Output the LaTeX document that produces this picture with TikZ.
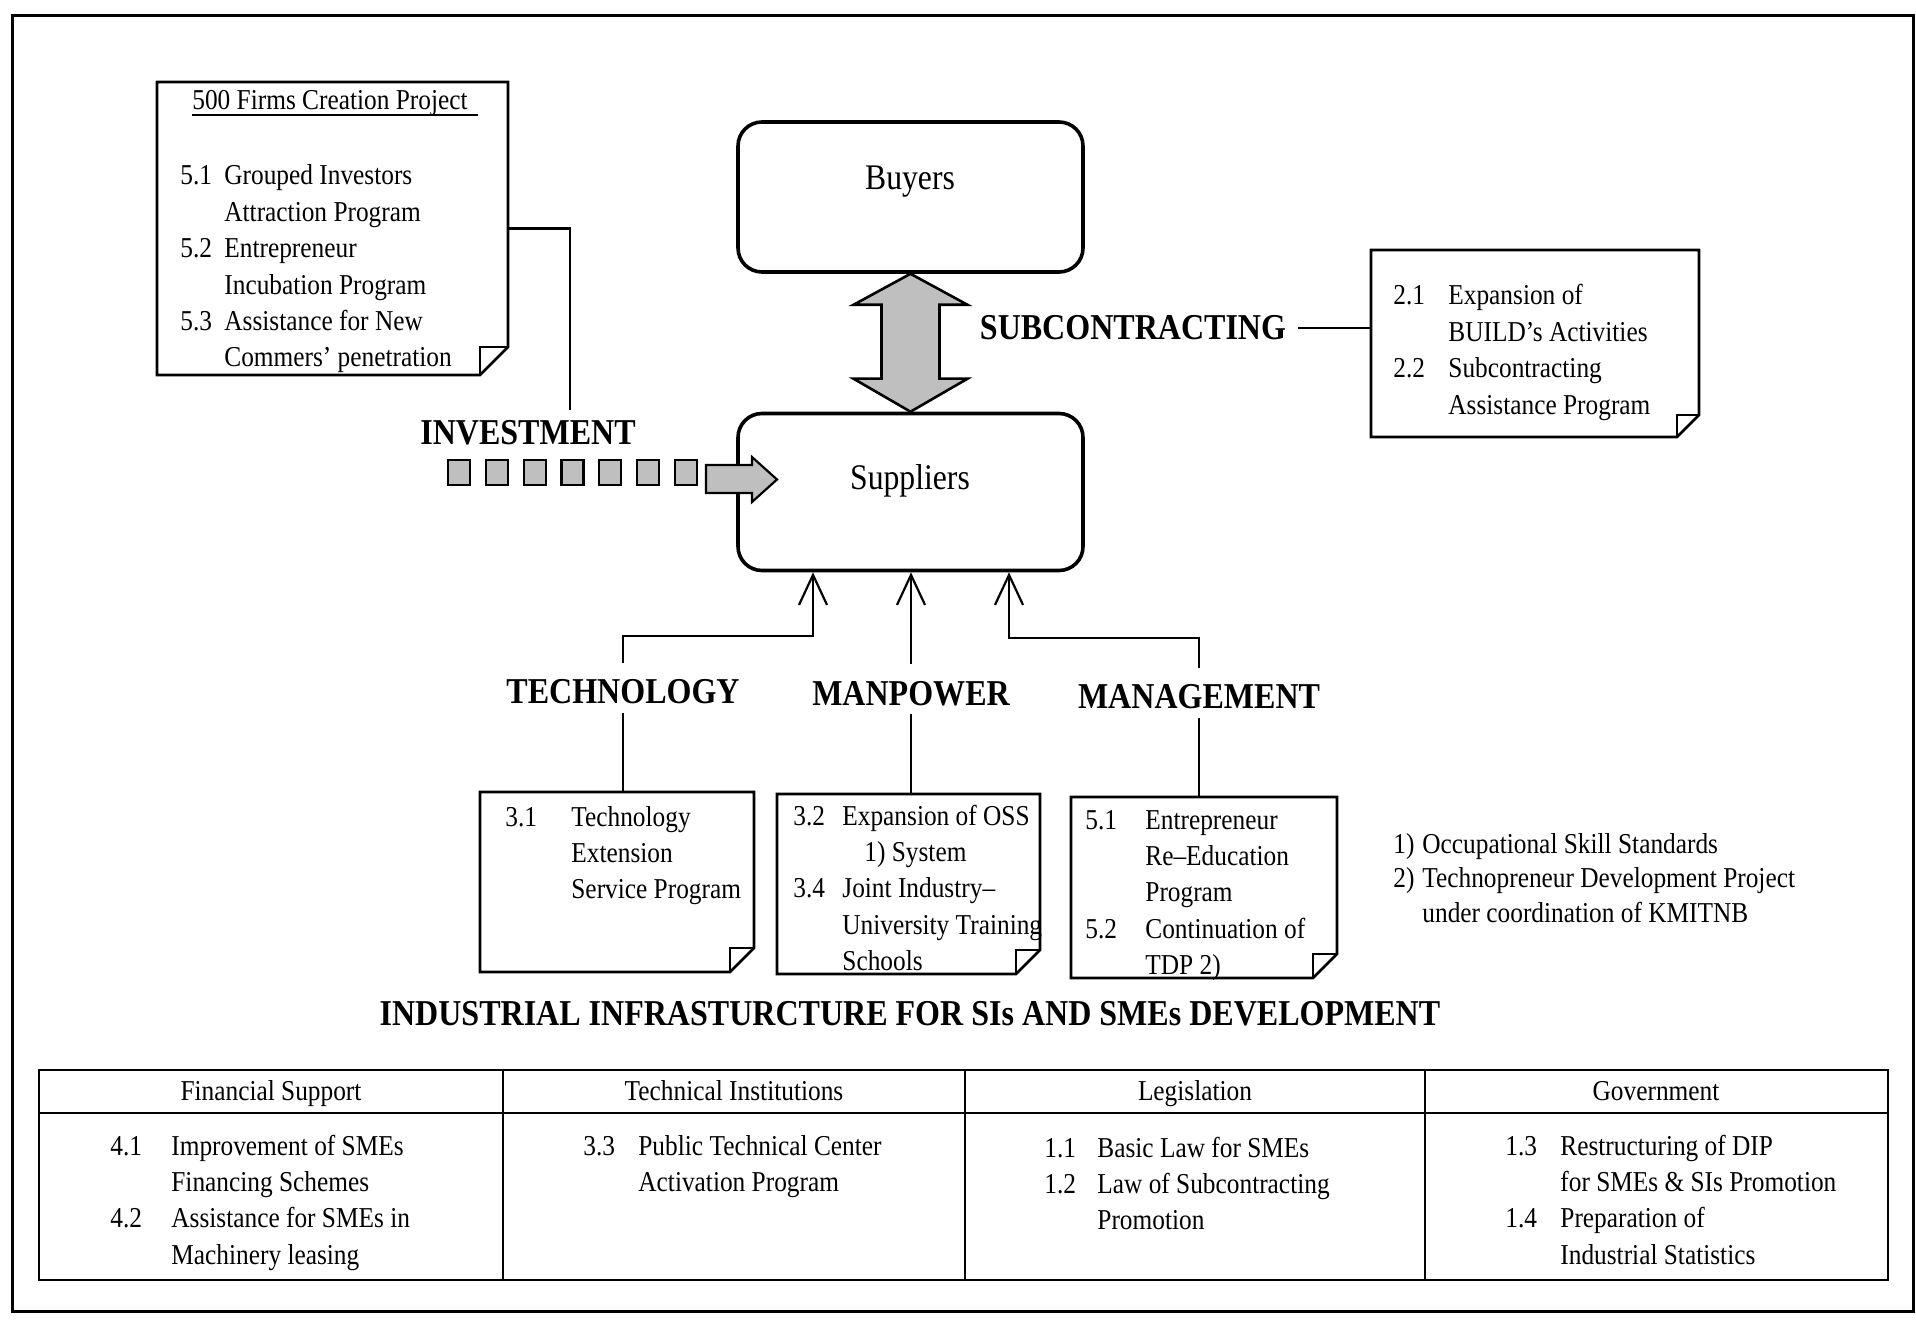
\documentclass[tikz,border=0pt]{standalone}
\usepackage{fontspec}
\setmainfont{Liberation Serif}[FakeStretch=0.88]
\usetikzlibrary{arrows.meta,calc}

\newcommand{\foldnote}[2]{%
  \draw[notefr] (#1.north west) -- (#1.north east) -- ([yshift=#2]#1.south east) -- ([xshift=-#2]#1.south east) -- (#1.south west) -- cycle;
  \draw[notefr] ([xshift=-#2]#1.south east) -- ([xshift=-#2,yshift=#2]#1.south east) -- ([yshift=#2]#1.south east);
}
\newcommand{\itab}[2]{\begin{tabular}[t]{@{}p{#1}@{}l@{}}#2\end{tabular}}

\begin{document}
\begin{tikzpicture}[x=0.5pt,y=-0.5pt,
  conn/.style={line width=1.1pt},
  arr/.style={line width=1.1pt, -{Straight Barb[length=15pt,width=14pt]}},
  rbox/.style={draw, line width=1.8pt, rounded corners=12pt, inner sep=0, minimum width=172.5pt},
  notenode/.style={inner sep=0, outer sep=0},
  notefr/.style={line width=1.3pt, line join=miter},
  small/.style={font=\fontsize{14.4pt}{18.2pt}\selectfont, inner sep=0},
  big/.style={font=\fontsize{18pt}{22pt}\selectfont, inner sep=0},
  lab/.style={font=\bfseries\fontsize{18.2pt}{22pt}\selectfont, inner sep=0, anchor=base},
  grayfill/.style={fill=gray!50, draw=black, line width=1.1pt},
  tbl/.style={line width=1.4pt},
]
\useasboundingbox (0,0) rectangle (1916,1325);
\draw[line width=1.5pt] (12,16) rectangle (1913,1311);

% main boxes
\node[rbox, minimum height=75pt] (buy) at (910.5,197) {};
\node[big, anchor=base] (buyt) at (910,190) {Buyers};
\node[rbox, minimum height=78.5pt] (sup) at (910.5,492) {};
\node[big, anchor=base] (supt) at (910,490) {Suppliers};

% double arrow
\draw[grayfill, line width=1.3pt] (buy.south)
  -- ([xshift=28.5pt,yshift=-15.5pt]buy.south) -- ([xshift=14.5pt,yshift=-15.5pt]buy.south)
  -- ([xshift=14.5pt,yshift=16.5pt]sup.north) -- ([xshift=28.5pt,yshift=16.5pt]sup.north)
  -- (sup.north)
  -- ([xshift=-28.5pt,yshift=16.5pt]sup.north) -- ([xshift=-14.5pt,yshift=16.5pt]sup.north)
  -- ([xshift=-14.5pt,yshift=-15.5pt]buy.south) -- ([xshift=-28.5pt,yshift=-15.5pt]buy.south)
  -- cycle;

% investment arrow
\foreach \k in {0,...,6} { \draw[grayfill] ({448+37.8*\k},460) rectangle ++(22,25); }
\draw[grayfill] (706,465) -- (752,465) -- (752,457) -- (777,479.5) -- (752,502) -- (752,493) -- (706,493) -- cycle;

% labels
\node[lab] (inv) at (528,445) {INVESTMENT};
\node[lab] (subc) at (1133,340) {SUBCONTRACTING};
\node[lab] (tech) at (623,704) {TECHNOLOGY};
\node[lab] (manp) at (911,705) {MANPOWER};
\node[lab] (mgmt) at (1199,709) {MANAGEMENT};
\node[lab] (infra) at (910,1025) {INDUSTRIAL INFRASTURCTURE FOR SIs AND SMEs DEVELOPMENT};

% notes
\node[notenode, minimum width=175.5pt, minimum height=146.5pt] (n500) at (332.5,228.5) {};
\foldnote{n500}{14pt}
\node[notenode, minimum width=164pt, minimum height=93.5pt] (n2) at (1535,343.5) {};
\foldnote{n2}{11pt}
\node[notenode, minimum width=137pt, minimum height=90pt] (ntech) at (617,882) {};
\foldnote{ntech}{12pt}
\node[notenode, minimum width=131.5pt, minimum height=90pt] (nman) at (908.5,884) {};
\foldnote{nman}{12pt}
\node[notenode, minimum width=133pt, minimum height=90.5pt] (nmgt) at (1204,887.5) {};
\foldnote{nmgt}{12pt}

% note texts
\node[small, anchor=base west] (n500t) at (192,110) {500 Firms Creation Project};
\draw[line width=0.9pt] ([yshift=-2.5pt]n500t.base west) -- ([xshift=5pt,yshift=-2.5pt]n500t.base east);
\node[small, anchor=base west] (n500i) at (180,185) {\itab{22pt}{5.1 & Grouped Investors\\ & Attraction Program\\ 5.2 & Entrepreneur\\ & Incubation Program\\ 5.3 & Assistance for New\\ & Commers' penetration}};
\node[small, anchor=base west] (n2i) at (1393,305) {\itab{27.5pt}{2.1 & Expansion of\\ & BUILD's Activities\\ 2.2 & Subcontracting\\ & Assistance Program}};
\node[small, anchor=base west] (ntechi) at (505,826) {\itab{33pt}{3.1 & Technology\\ & Extension\\ & Service Program}};
\node[small, anchor=base west] (nmani) at (793,825) {\itab{24.5pt}{3.2 & Expansion of OSS\\ & \hspace{11pt}1) System\\ 3.4 & Joint Industry--\\ & University Training\\ & Schools}};
\node[small, anchor=base west] (nmgti) at (1085,829) {\itab{30pt}{5.1 & Entrepreneur\\ & Re--Education\\ & Program\\ 5.2 & Continuation of\\ & TDP 2)}};
\node[small, anchor=base west, font=\fontsize{14.4pt}{17.25pt}\selectfont] (foot) at (1393,853) {\itab{14.5pt}{1) & Occupational Skill Standards\\ 2) & Technopreneur Development Project\\ & under coordination of KMITNB}};

% connectors
\coordinate (invtop) at (570,410);
\draw[conn] (n500.east) -| (invtop);
\draw[conn] ([xshift=6pt]subc.east) -- (subc.east -| n2.west);
\coordinate (t1) at (813,636);
\coordinate (m1) at (1009,638);
\draw[arr] ([yshift=8pt]tech.north) |- (t1) -- (t1 |- sup.south);
\draw[arr] ([yshift=8pt]manp.north) -- (manp.north |- sup.south);
\draw[arr] ([yshift=8pt]mgmt.north) |- (m1) -- (m1 |- sup.south);
\draw[conn] ([yshift=-4pt]tech.south) -- (tech.south |- ntech.north);
\draw[conn] ([yshift=-4pt]manp.south) -- (manp.south |- nman.north);
\draw[conn] ([yshift=-4pt]mgmt.south) -- (mgmt.south |- nmgt.north);

% table
\draw[tbl] (39,1070) rectangle (1888,1280);
\draw[tbl] (39,1113) -- (1888,1113);
\foreach \x in {503,965,1425} { \draw[tbl] (\x,1070) -- (\x,1280); }
\node[small, anchor=base] (h1) at (271,1100) {Financial Support};
\node[small, anchor=base] (h2) at (734,1100) {Technical Institutions};
\node[small, anchor=base] (h3) at (1195,1100) {Legislation};
\node[small, anchor=base] (h4) at (1656,1100) {Government};
\node[small, anchor=base west] (c1) at (110,1155) {\itab{30.5pt}{4.1 & Improvement of SMEs\\ & Financing Schemes\\ 4.2 & Assistance for SMEs in\\ & Machinery leasing}};
\node[small, anchor=base west] (c2) at (583,1155) {\itab{27.5pt}{3.3 & Public Technical Center\\ & Activation Program}};
\node[small, anchor=base west] (c3) at (1044,1157) {\itab{26.5pt}{1.1 & Basic Law for SMEs\\ 1.2 & Law of Subcontracting\\ & Promotion}};
\node[small, anchor=base west] (c4) at (1505,1155) {\itab{27.5pt}{1.3 & Restructuring of DIP\\ & for SMEs \& SIs Promotion\\ 1.4 & Preparation of\\ & Industrial Statistics}};
\end{tikzpicture}
\end{document}
